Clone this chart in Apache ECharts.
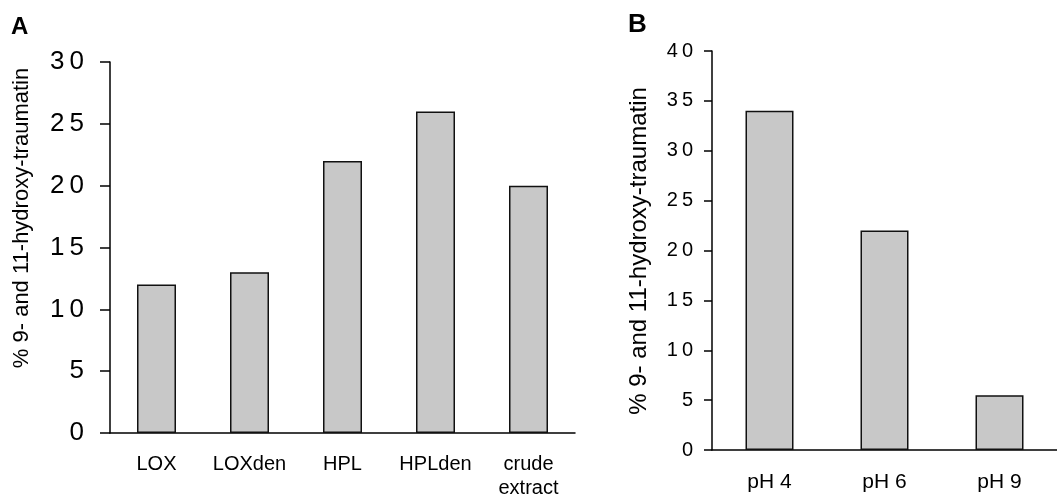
<!DOCTYPE html>
<html>
<head>
<meta charset="utf-8">
<script src="https://cdn.jsdelivr.net/npm/echarts@6/dist/echarts.min.js"></script>
<style>
  html, body { margin: 0; padding: 0; background: #fff; }
  #chart { width: 1057px; height: 500px; }
</style>
</head>
<body>
<div id="chart"></div>
<script>
// panel A: enzyme preparations
var catsA = ['LOX', 'LOXden', 'HPL', 'HPLden', 'crude\nextract'];
var valsA = [12, 13, 22, 26, 20];
// panel B: pH
var catsB = ['pH 4', 'pH 6', 'pH 9'];
var valsB = [34, 22, 5.5];
var yTitle = '% 9- and 11-hydroxy-traumatin';

var font = 'Liberation Sans, Arial, sans-serif';
var barStyle = {
    color: '#c8c8c8',
    borderColor: '#111',
    borderWidth: 1.5
};

// the original prints tick numbers with wide letter spacing
function spaced(v) {
    return String(v).split('').join('\u2009');
}

var chart = echarts.init(document.getElementById('chart'), null, {renderer: 'canvas'});

chart.setOption({
    backgroundColor: '#fff',
    animation: false,
    grid: [
        {left: 110, top: 62, width: 465, height: 375},
        {left: 712, top: 51, width: 351, height: 399}
    ],
    xAxis: [{
        type: 'category',
        gridIndex: 0,
        data: catsA,
        axisLine: {lineStyle: {color: '#000', width: 1.5}},
        axisTick: {length: 6, lineStyle: {color: '#000', width: 1.5}},
        axisLabel: {color: '#000', fontSize: 20, fontFamily: font, margin: 19, lineHeight: 24, interval: 0}
    }, {
        type: 'category',
        gridIndex: 1,
        data: catsB,
        axisLine: {lineStyle: {color: '#000', width: 1.5}},
        axisTick: {length: 8, lineStyle: {color: '#000', width: 1.5}},
        axisLabel: {color: '#000', fontSize: 21, fontFamily: font, margin: 22, interval: 0}
    }],
    yAxis: [{
        type: 'value',
        gridIndex: 0,
        min: 0, max: 30, interval: 5,
        splitLine: {show: false},
        axisLine: {show: true, lineStyle: {color: '#000', width: 1.5}},
        axisTick: {show: true, length: 10, lineStyle: {color: '#000', width: 1.5}},
        axisLabel: {color: '#000', fontSize: 26, fontFamily: font, margin: 26, formatter: spaced}
    }, {
        type: 'value',
        gridIndex: 1,
        min: 0, max: 40, interval: 5,
        splitLine: {show: false},
        axisLine: {show: true, lineStyle: {color: '#000', width: 1.5}},
        axisTick: {show: true, length: 8, lineStyle: {color: '#000', width: 1.5}},
        axisLabel: {color: '#000', fontSize: 20, fontFamily: font, margin: 19, formatter: spaced}
    }],
    series: [{
        type: 'bar',
        xAxisIndex: 0,
        yAxisIndex: 0,
        barWidth: 39,
        itemStyle: barStyle,
        data: valsA
    }, {
        type: 'bar',
        xAxisIndex: 1,
        yAxisIndex: 1,
        barWidth: 48,
        itemStyle: barStyle,
        data: valsB
    }],
    graphic: [
        {type: 'text', left: 11, top: 15,
         style: {text: 'A', font: 'bold 24px ' + font, fill: '#000'}},
        {type: 'text', left: 628, top: 12,
         style: {text: 'B', font: 'bold 26px ' + font, fill: '#000'}},
        // rotated axis titles
        {type: 'text', x: 22, y: 218, rotation: Math.PI / 2,
         style: {text: yTitle, font: '22px ' + font, fill: '#000', align: 'center', verticalAlign: 'middle'}},
        {type: 'text', x: 639, y: 251, rotation: Math.PI / 2,
         style: {text: yTitle, font: '24px ' + font, fill: '#000', align: 'center', verticalAlign: 'middle'}}
    ]
});
</script>
</body>
</html>
